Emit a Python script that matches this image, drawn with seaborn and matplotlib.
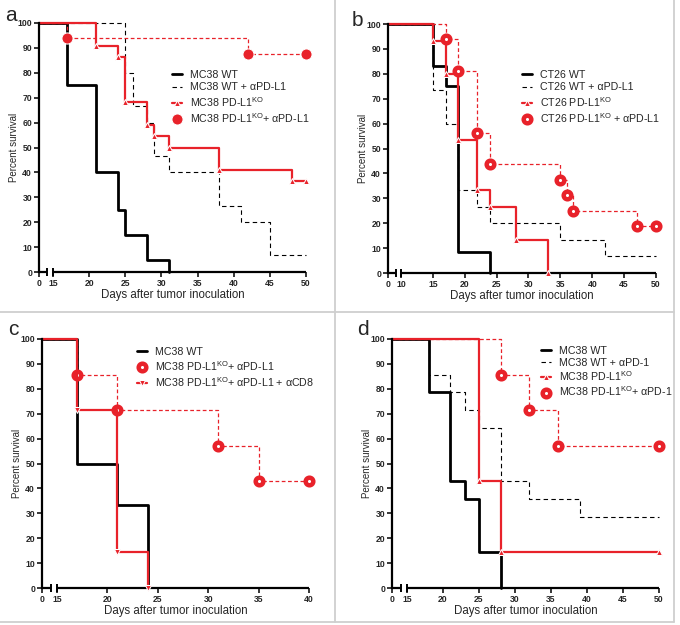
import numpy as np
import pandas as pd
import seaborn as sns
import matplotlib.pyplot as plt
from matplotlib.lines import Line2D

# ---- data (days, percent survival); first point is the start at 100 % ----
# panel a: MC38, anti-PD-L1
a_wt_t = [0, 17, 21, 24, 25, 28, 31]
a_wt_s = [100, 75, 40, 25, 15, 5, 0]
a_wt_ab_t = [0, 25, 26, 28, 29, 31, 38, 41, 45, 50]
a_wt_ab_s = [100, 80, 66.7, 60, 46.7, 40, 26.7, 20, 6.7, 6.7]
a_ko_t = [0, 21, 24, 25, 28, 29, 31, 38, 48, 50]
a_ko_s = [100, 90.9, 86.4, 68.2, 59.1, 54.5, 50, 40.9, 36.4, 36.4]
a_ko_ab_t = [0, 17, 42, 50]
a_ko_ab_s = [100, 93.8, 87.5, 87.5]

# panel b: CT26, anti-PD-L1
b_wt_t = [0, 15, 17, 19, 24]
b_wt_s = [100, 83.3, 75, 8.3, 0]
b_wt_ab_t = [0, 15, 17, 19, 22, 24, 35, 42, 50]
b_wt_ab_s = [100, 73.3, 60, 33.3, 26.7, 20, 13.3, 6.7, 6.7]
b_ko_t = [0, 15, 17, 19, 22, 24, 28, 33]
b_ko_s = [100, 93.3, 80, 53.3, 33.3, 26.7, 13.3, 0]
b_ko_ab_t = [0, 17, 19, 22, 24, 35, 36, 37, 47, 50]
b_ko_ab_s = [100, 93.8, 81.3, 56.3, 43.8, 37.5, 31.3, 25, 18.8, 18.8]

# panel c: MC38, anti-PD-L1 +/- anti-CD8
c_wt_t = [0, 17, 21, 24]
c_wt_s = [100, 50, 33.3, 0]
c_ko_ab_t = [0, 17, 21, 31, 35, 40]
c_ko_ab_s = [100, 85.7, 71.4, 57.1, 42.9, 42.9]
c_cd8_t = [0, 17, 21, 24]
c_cd8_s = [100, 71.4, 14.3, 0]

# panel d: MC38, anti-PD-1
d_wt_t = [0, 18, 21, 23, 25, 28]
d_wt_s = [100, 78.6, 42.9, 35.7, 14.3, 0]
d_wt_ab_t = [0, 18, 21, 23, 25, 28, 32, 39, 50]
d_wt_ab_s = [100, 85.7, 78.6, 71.4, 64.3, 42.9, 35.7, 28.6, 28.6]
d_ko_t = [0, 25, 28, 50]
d_ko_s = [100, 42.9, 14.3, 14.3]
d_ko_ab_t = [0, 28, 32, 36, 50]
d_ko_ab_s = [100, 85.7, 71.4, 57.1, 57.1]

RED = "#e8222a"
SANS = ["Liberation Sans", "DejaVu Sans"]

sns.set_style("white")
plt.rcParams["font.family"] = SANS

# line styles by kind
styles = {
    "wt": dict(color="black", lw=2.0, linestyle="-"),
    "wt_ab": dict(color="black", lw=0.8, linestyle=(0, (4, 3))),
    "ko": dict(color=RED, lw=1.6, linestyle="-", marker="^", markersize=5,
               markevery=slice(1, None)),
    "ko_ab": dict(color=RED, lw=0.9, linestyle=(0, (3, 2)), marker="o",
                  markersize=5.5, markerfacecolor="white", markeredgewidth=3.2,
                  markeredgecolor=RED, markevery=slice(1, None)),
    "ko_ab_solid": dict(color=RED, lw=0.9, linestyle=(0, (3, 2)), marker="o",
                        markersize=8, markevery=slice(1, None)),
    "cd8": dict(color=RED, lw=1.6, linestyle="-", marker="v", markersize=5,
                markevery=slice(1, None)),
}

ko = "PD-L1$^{\\mathregular{KO}}$"
panels = [
    dict(letter="a", pos=(39, 23, 306, 272), brk=15, xmax=50, gap=14,
         letter_xy=(5, 21), leg=(172, 70), spacing=0.22,
         series=[("MC38 WT", a_wt_t, a_wt_s, "wt"),
                 ("MC38 WT + αPD-L1", a_wt_ab_t, a_wt_ab_s, "wt_ab"),
                 (f"MC38 {ko}", a_ko_t, a_ko_s, "ko"),
                 (f"MC38 {ko}+ αPD-L1", a_ko_ab_t, a_ko_ab_s, "ko_ab_solid")]),
    dict(letter="b", pos=(388, 24, 656, 273), brk=10, xmax=50, gap=13,
         letter_xy=(352, 26), leg=(522, 70), spacing=0.22,
         series=[("CT26 WT", b_wt_t, b_wt_s, "wt"),
                 ("CT26 WT + αPD-L1", b_wt_ab_t, b_wt_ab_s, "wt_ab"),
                 (f"CT26 {ko}", b_ko_t, b_ko_s, "ko"),
                 (f"CT26 {ko} + αPD-L1", b_ko_ab_t, b_ko_ab_s, "ko_ab")]),
    dict(letter="c", pos=(42, 339, 309, 588), brk=15, xmax=40, gap=15,
         letter_xy=(8, 335), leg=(137, 347), spacing=0.2,
         series=[("MC38 WT", c_wt_t, c_wt_s, "wt"),
                 (f"MC38 {ko}+ αPD-L1", c_ko_ab_t, c_ko_ab_s, "ko_ab"),
                 (f"MC38 {ko}+ αPD-L1 + αCD8", c_cd8_t, c_cd8_s, "cd8")]),
    dict(letter="d", pos=(392, 339, 659, 588), brk=15, xmax=50, gap=15,
         letter_xy=(357, 335), leg=(541, 346), spacing=0.15,
         series=[("MC38 WT", d_wt_t, d_wt_s, "wt"),
                 ("MC38 WT + αPD-1", d_wt_ab_t, d_wt_ab_s, "wt_ab"),
                 (f"MC38 {ko}", d_ko_t, d_ko_s, "ko"),
                 (f"MC38 {ko}+ αPD-1", d_ko_ab_t, d_ko_ab_s, "ko_ab")]),
]

W, H = 680, 625
fig = plt.figure(figsize=(W / 100, H / 100), dpi=100)


def broken_scale(brk, xmax, gap_frac):
    # squeeze [0, brk] into a short stub left of the break
    gap = gap_frac * (xmax - brk) / (1 - gap_frac)
    c = gap / brk

    def fwd(x):
        x = np.asarray(x, dtype=float)
        return np.where(x < brk, brk - (brk - x) * c, x)

    def inv(y):
        y = np.asarray(y, dtype=float)
        return np.where(y < brk, brk - (brk - y) / c, y)

    return fwd, inv


for p in panels:
    x0, y0, x1, y1 = p["pos"]
    ax = fig.add_axes([x0 / W, 1 - y1 / H, (x1 - x0) / W, (y1 - y0) / H])
    brk, xmax = p["brk"], p["xmax"]

    for label, t, s, kind in p["series"]:
        df = pd.DataFrame({"day": t, "survival": s})
        sns.lineplot(data=df, x="day", y="survival", ax=ax, label=label,
                     drawstyle="steps-post", errorbar=None, sort=False,
                     clip_on=False, **styles[kind])

    fwd, inv = broken_scale(brk, xmax, p["gap"] / (x1 - x0))
    ax.set_xscale("function", functions=(fwd, inv))
    ax.set_xlim(0, xmax)
    ax.set_ylim(0, 100)
    ax.set_xticks([0] + list(range(brk, xmax + 1, 5)))
    ax.set_yticks(range(0, 101, 10))

    for side in ["top", "right", "bottom"]:
        ax.spines[side].set_visible(False)
    ax.spines["left"].set_linewidth(1.6)
    ax.spines["left"].set_color("black")

    # broken bottom axis
    stub = 0.6 * brk
    ax.plot([0, stub], [0, 0], color="black", lw=1.6, clip_on=False,
            solid_capstyle="butt", zorder=1)
    ax.plot([brk, xmax], [0, 0], color="black", lw=1.6, clip_on=False,
            solid_capstyle="butt", zorder=1)
    ax.plot([stub, brk], [0, 0], linestyle="none", marker="|", markersize=6,
            markeredgewidth=1.4, color="black", clip_on=False)

    ax.tick_params(axis="both", which="both", direction="out", length=3.5,
                   width=1.1, color="black", labelsize=6.2, pad=1.5,
                   bottom=True, left=True)
    for lab in ax.get_xticklabels() + ax.get_yticklabels():
        lab.set_fontweight("bold")

    ax.set_xlabel("Days after tumor inoculation", fontsize=8.3, labelpad=0.5)
    ax.set_ylabel("Percent survival", fontsize=7, labelpad=-1)

    ax.legend(loc="upper left",
              bbox_to_anchor=(p["leg"][0] / W, 1 - p["leg"][1] / H),
              bbox_transform=fig.transFigure, frameon=False, fontsize=7.7,
              handlelength=0.9, handletextpad=0.8, labelspacing=p["spacing"],
              borderpad=0, borderaxespad=0)

    lx, ly = p["letter_xy"]
    fig.text(lx / W, 1 - ly / H, p["letter"], fontsize=15, va="baseline")

# panel frame lines
grey = "#cfcfcf"
right, bottom = 674 / W, 1 - 622 / H
mid_x, mid_y = 335 / W, 1 - 312 / H
for xs, ys in [([mid_x, mid_x], [bottom, 1]), ([right, right], [bottom, 1]),
               ([0, right], [mid_y, mid_y]), ([0, right], [bottom, bottom])]:
    fig.add_artist(Line2D(xs, ys, transform=fig.transFigure, color=grey, lw=1.3))

fig.savefig("out.png", dpi=100)
